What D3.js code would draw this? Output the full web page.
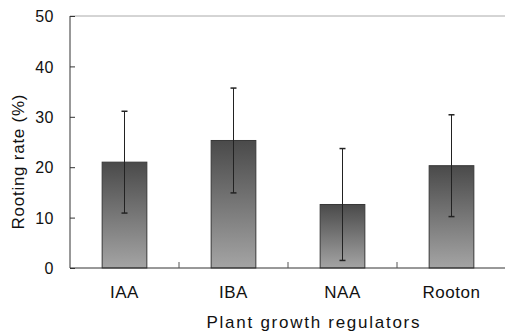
<!DOCTYPE html>
<html lang="en">
<head>
<meta charset="UTF-8">
<title>Rooting rate by plant growth regulator</title>
<script src="https://d3js.org/d3.v7.min.js"></script>
<style>
    body { margin: 0; background: #fff; }
    svg text { font-family: "Liberation Sans", Arial, sans-serif; fill: #111; }
</style>
</head>
<body>
<svg id="chart" width="505" height="334"></svg>
<script>
    // data
    const regulators = ["IAA", "IBA", "NAA", "Rooton"];
    const rootingRate = [21.0, 25.3, 12.6, 20.3];
    const stdError = [10.1, 10.4, 11.1, 10.1];
    const yTicks = [0, 10, 20, 30, 40, 50];

    const svg = d3.select("#chart");
    const margin = {top: 16, right: -1, bottom: 66, left: 70};
    const width = 505 - margin.left - margin.right;
    const height = 334 - margin.top - margin.bottom;

    const defs = svg.append("defs");
    const grad = defs.append("linearGradient")
        .attr("id", "barGrad")
        .attr("x1", 0).attr("y1", 0).attr("x2", 0).attr("y2", 1);
    grad.append("stop").attr("offset", "0%").attr("stop-color", "#4a4a4a");
    grad.append("stop").attr("offset", "100%").attr("stop-color", "#a4a4a4");

    const g = svg.append("g").attr("transform", `translate(${margin.left},${margin.top})`);

    const x = d3.scaleBand().domain(regulators).range([0, width]).padding(0);
    const y = d3.scaleLinear().domain([0, 50]).range([height, 0]);
    const barW = x.bandwidth() * 0.41;

    // top frame line
    g.append("line")
        .attr("x1", 0).attr("x2", width)
        .attr("y1", 0).attr("y2", 0)
        .attr("stroke", "#aaa").attr("stroke-width", 1);

    // bars
    g.selectAll("rect.bar")
        .data(regulators)
        .enter().append("rect")
        .attr("class", "bar")
        .attr("x", d => x(d) + (x.bandwidth() - barW) / 2)
        .attr("y", (d, i) => y(rootingRate[i]))
        .attr("width", barW)
        .attr("height", (d, i) => y(0) - y(rootingRate[i]))
        .attr("fill", "url(#barGrad)")
        .attr("stroke", "#383838")
        .attr("stroke-width", 1);

    // error bars
    const err = g.selectAll("g.err")
        .data(regulators)
        .enter().append("g")
        .attr("class", "err")
        .attr("stroke", "#222")
        .attr("stroke-width", 1);
    err.append("line")
        .attr("x1", d => x(d) + x.bandwidth() / 2)
        .attr("x2", d => x(d) + x.bandwidth() / 2)
        .attr("y1", (d, i) => y(rootingRate[i] + stdError[i]))
        .attr("y2", (d, i) => y(rootingRate[i] - stdError[i]));
    [1, -1].forEach(s => {
        err.append("line")
            .attr("x1", d => x(d) + x.bandwidth() / 2 - 3)
            .attr("x2", d => x(d) + x.bandwidth() / 2 + 3)
            .attr("y1", (d, i) => y(rootingRate[i] + s * stdError[i]))
            .attr("y2", (d, i) => y(rootingRate[i] + s * stdError[i]))
            .attr("stroke-width", 1.5);
    });

    // y axis
    const yAxis = g.append("g")
        .call(d3.axisLeft(y).tickValues(yTicks).tickSize(-5).tickPadding(16).tickFormat(d3.format("d")));
    yAxis.select(".domain").attr("stroke", "#333").attr("d", `M0,0V${height}`);
    yAxis.selectAll(".tick line").attr("stroke", "#333");
    yAxis.selectAll("text").style("font-size", "16px").attr("letter-spacing", "0.5px").attr("dy", "0.35em");

    // x axis
    const xAxis = g.append("g")
        .attr("transform", `translate(0,${height})`)
        .call(d3.axisBottom(x).tickSize(0).tickPadding(18));
    xAxis.select(".domain").attr("stroke", "#333").attr("d", `M0,0H${width}`);
    xAxis.selectAll("text").style("font-size", "17px").attr("letter-spacing", "0.5px");

    // category boundary ticks
    g.selectAll("line.sep")
        .data(regulators.slice(1))
        .enter().append("line")
        .attr("class", "sep")
        .attr("x1", d => x(d)).attr("x2", d => x(d))
        .attr("y1", height).attr("y2", height - 6)
        .attr("stroke", "#555");

    // axis titles
    svg.append("text")
        .attr("x", 313).attr("y", 328)
        .attr("text-anchor", "middle")
        .style("font-size", "17px")
        .attr("textLength", 213)
        .text("Plant growth regulators");

    svg.append("text")
        .attr("transform", "translate(24,162) rotate(-90)")
        .attr("text-anchor", "middle")
        .style("font-size", "17px")
        .attr("textLength", 135)
        .text("Rooting rate (%)");
</script>
</body>
</html>
